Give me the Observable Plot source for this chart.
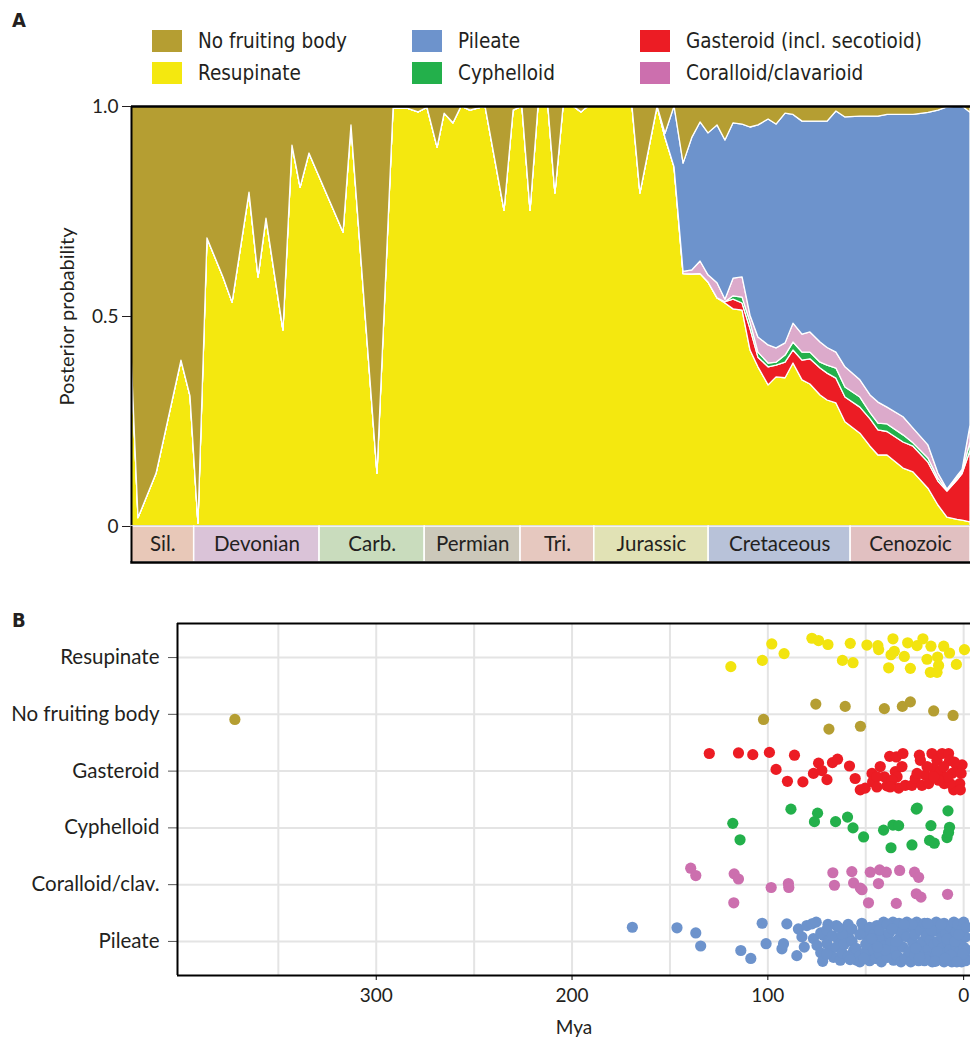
<!DOCTYPE html>
<html><head><meta charset="utf-8">
<script src="https://cdn.jsdelivr.net/npm/d3@7"></script>
<script src="https://cdn.jsdelivr.net/npm/@observablehq/plot@0.6"></script>
<style>
body{margin:0;background:#fff;}
#wrap{position:relative;width:970px;height:1041px;overflow:hidden;font-family:Lato,"Open Sans",sans-serif;color:#231f20;}
.box{position:absolute;left:0;}
.plab{position:absolute;font-family:"Liberation Sans Narrow","DejaVu Sans Condensed",sans-serif;font-weight:bold;font-size:20px;}
.leg{position:absolute;display:flex;align-items:center;font-family:"Liberation Sans Narrow","DejaVu Sans Condensed",sans-serif;font-size:20.5px;line-height:22px;white-space:nowrap;}
.sw{width:30px;height:22px;margin-right:16px;flex:none;}
</style></head>
<body><div id="wrap"></div>
<script>
// ---------- Panel A data ----------
const mya = [455.0,451.2,441.4,427.9,423.0,418.7,413.8,405.1,400.2,391.0,386.1,381.8,372.6,367.7,363.3,358.5,340.0,335.7,321.6,312.9,305.3,299.3,294.5,289.0,285.2,280.4,276.0,271.2,263.0,252.7,247.8,243.0,238.6,234.3,228.9,225.1,220.7,215.3,211.0,207.2,183.3,179.0,169.7,165.4,160.5,155.6,150.8,146.4,142.1,137.2,132.9,128.5,123.6,119.3,115.0,109.5,105.2,100.3,96.0,91.1,86.8,81.3,77.5,72.7,67.8,59.7,54.2,49.9,45.0,36.3,30.9,22.8,17.4,12.5,7.0,4.3,0];
const resupinate = [0.41,0.02,0.126,0.395,0.31,0.007,0.686,0.593,0.533,0.795,0.593,0.733,0.467,0.907,0.807,0.888,0.70,0.955,0.126,0.995,0.995,0.986,0.997,0.902,0.983,0.96,1.0,0.99,1.0,0.752,0.99,1.0,0.752,1.0,1.0,0.793,1.0,1.0,0.986,1.0,1.0,0.793,1.0,
  0.925,0.855,
  0.601,0.600,0.601,0.581,0.543,0.531,0.517,0.514,0.419,0.379,0.336,0.355,0.353,0.388,0.348,0.338,0.312,0.30,0.293,0.248,0.221,0.19,0.169,0.169,0.138,0.129,0.09,0.05,0.021,0.016,0.014,0.01];
const gasteroid = [0,0,0,0,0,0,0,0,0,0,0,0,0,0,0,0,0,0,0,0,0,0,0,0,0,0,0,0,0,0,0,0,0,0,0,0,0,0,0,0,0,0,0,
  0,0,
  0,0,0,0,0,0.003,0.023,0.017,0.051,0.023,0.043,0.028,0.037,0.031,0.047,0.06,0.064,0.064,0.059,0.059,0.062,0.065,0.06,0.056,0.062,0.061,0.062,0.057,0.062,0.094,0.111,0.17];
const cyphelloid = [0,0,0,0,0,0,0,0,0,0,0,0,0,0,0,0,0,0,0,0,0,0,0,0,0,0,0,0,0,0,0,0,0,0,0,0,0,0,0,0,0,0,0,
  0,0,
  0,0,0,0,0,0,0.008,0.014,0.016,0.012,0.009,0.007,0.017,0.019,0.019,0.016,0.014,0.019,0.024,0.024,0.024,0.015,0.016,0.018,0.017,0.008,0.01,0.007,0.003,0.005,0.005,0.02];
const coralloid = [0,0,0,0,0,0,0,0,0,0,0,0,0,0,0,0,0,0,0,0,0,0,0,0,0,0,0,0,0,0,0,0,0,0,0,0,0,0,0,0,0,0,0,
  0,0,
  0.005,0.010,0.030,0.017,0.036,0.006,0.042,0.048,0.016,0.036,0.043,0.034,0.029,0.045,0.043,0.048,0.048,0.042,0.038,0.048,0.041,0.042,0.05,0.04,0.043,0.035,0.031,0.012,0.002,0.005,0.005,0.04];
const pileate = [0,0,0,0,0,0,0,0,0,0,0,0,0,0,0,0,0,0,0,0,0,0,0,0,0,0,0,0,0,0,0,0,0,0,0,0,0,0,0,0,0,0,0,
  0.01,0.145,
  0.258,0.316,0.331,0.338,0.376,0.379,0.37,0.364,0.448,0.505,0.538,0.533,0.547,0.497,0.507,0.502,0.526,0.539,0.574,0.595,0.628,0.664,0.681,0.697,0.72,0.747,0.792,0.864,0.91,0.88,0.865,0.745];
const noFruitingBody = [0.59,0.98,0.874,0.605,0.69,0.993,0.314,0.407,0.467,0.205,0.407,0.267,0.533,0.093,0.193,0.112,0.30,0.045,0.874,0.005,0.005,0.014,0.003,0.098,0.017,0.04,0,0.01,0,0.248,0.01,0,0.248,0,0,0.207,0,0,0.014,0,0,0.207,0,
  0.065,0,
  0.136,0.074,0.038,0.064,0.045,0.081,0.04,0.043,0.05,0.045,0.031,0.043,0.017,0.02,0.036,0.036,0.036,0.036,0.012,0.026,0.024,0.024,0.024,0.02,0.02,0.02,0.015,0.01,0.002,0,0,0.015];

const seriesNames = ["Resupinate","Gasteroid (incl. secotioid)","Cyphelloid","Coralloid/clavarioid","Pileate","No fruiting body"];
const seriesValues = [resupinate, gasteroid, cyphelloid, coralloid, pileate, noFruitingBody];

const periodNames = ["Sil.","Devonian","Carb.","Permian","Tri.","Jurassic","Cretaceous","Cenozoic"];
const periodStart = [455,421,353,296,244,204,142,65];
const periodEnd   = [421,353,296,244,204,142,65,0];

// ---------- Panel B data ([Mya, jitter in row units]) ----------
const rowLabels = ["Resupinate","No fruiting body","Gasteroid","Cyphelloid","Coralloid/clav.","Pileate"];
const resupinateDots = [[118.9,0.16],[102.8,0.05],[98.0,-0.24],[91.7,-0.07],[77.5,-0.34],[74.1,-0.30],[69.3,-0.23],[61.9,0.05],[57.9,-0.25],[56.5,0.09],[49.4,-0.22],[43.8,-0.21],[43.4,-0.14],[38.3,0.18],[37.1,-0.05],[36.1,-0.33],[35.4,-0.11],[30.3,-0.02],[28.6,-0.26],[27.2,0.19],[23.8,-0.21],[20.8,-0.33],[18.7,0.03],[16.7,-0.20],[17.0,0.26],[13.6,0.26],[13.3,-0.01],[12.8,0.14],[10.2,-0.20],[7.2,-0.08],[3.7,0.12],[-0.4,-0.14]];
const noFruitDots = [[372.2,0.09],[102.2,0.09],[75.5,-0.18],[68.8,0.26],[60.5,-0.14],[52.7,0.21],[40.5,-0.10],[31.3,-0.14],[27.2,-0.22],[15.3,-0.06],[5.4,0.02]];
const gasteroidDots = [[129.9,-0.31],[115.0,-0.32],[107.7,-0.29],[99.2,-0.33],[86.4,-0.28],[95.8,-0.03],[90.0,0.18],[82.1,0.19],[76.7,0.04],[74.1,-0.14],[72.4,-0.01],[69.8,0.15],[67.0,-0.15],[64.4,-0.21],[58.3,-0.09],[55.4,0.13],[52.8,0.33],[50.3,0.30],[46.8,0.04],[46.5,0.19],[42.6,-0.08],[40.5,0.10],[39.2,0.26],[37.8,-0.26],[34.4,-0.25],[31.0,-0.31],[34.9,0.01],[34.0,0.10],[33.2,0.30],[29.8,0.25],[26.4,0.25],[24.7,0.13],[22.6,-0.28],[22.1,-0.19],[21.3,0.25],[19.6,0.07],[17.9,0.22],[16.2,-0.31],[15.3,-0.05],[13.6,-0.19],[11.9,0.01],[11.0,-0.31],[9.9,0.22],[7.7,-0.31],[7.2,-0.19],[5.9,0.04],[5.1,0.33],[3.4,-0.08],[2.0,0.22],[1.7,0.33],[0.8,-0.11],[1.3,0.04],[6.8,0.22],[10.2,-0.08],[8.5,0.10],[44.3,0.10],[36.6,0.16],[31.5,-0.08],[23.8,0.04],[18.7,-0.08],[4.8,-0.16],[12.8,0.16],[15.3,0.10],[37.5,0.28],[44.3,0.28]];
const cyphelloidDots = [[88.2,-0.33],[74.6,-0.26],[59.3,-0.19],[24.2,-0.33],[23.7,-0.35],[8.0,-0.30],[117.9,-0.08],[114.2,0.21],[76.2,-0.11],[65.4,-0.11],[56.5,0.0],[51.1,0.16],[40.9,0.04],[37.1,0.35],[36.1,-0.05],[33.2,-0.04],[26.4,0.30],[16.7,-0.04],[17.4,0.22],[15.0,0.27],[8.5,0.17],[7.2,-0.01],[7.7,0.08]];
const coralloidDots = [[139.4,-0.29],[136.8,-0.16],[117.2,-0.19],[115.0,-0.10],[117.4,0.32],[98.3,0.05],[89.5,-0.02],[89.3,0.05],[66.8,-0.21],[66.0,0.01],[57.1,-0.23],[56.2,-0.03],[52.8,0.06],[51.9,0.09],[47.7,-0.22],[48.6,0.32],[43.5,-0.02],[42.9,-0.26],[39.5,-0.22],[32.7,-0.25],[34.4,0.33],[25.1,-0.22],[23.0,-0.13],[24.2,0.16],[21.8,0.22],[8.2,0.17]];
const pileateDots = [[169.2,-0.25],[146.4,-0.24],[136.8,-0.15],[134.3,0.08],[113.8,0.16],[108.7,0.30],[102.9,-0.32],[100.9,0.04],[92.8,0.13],[92.0,0.04],[90.3,-0.31],
  [85.2,0.25],[84.4,-0.22],[82.6,-0.08],[81.4,0.10],[80.1,-0.28],[77.5,-0.31],[75.3,-0.34],[76.7,-0.05],[74.9,0.07],[69.3,-0.30],[71.6,-0.11],[69.8,0.04],[68.1,0.16],[66.5,0.28],[63.9,-0.02],[63.0,0.33],[60.0,-0.18],[58.8,-0.08],[56.2,0.16],[54.5,0.33],[51.1,-0.22],[49.4,-0.08],[47.7,0.10],[46.8,0.28],[44.3,-0.28],[40.9,-0.34],[36.1,-0.34],[39.2,-0.08],[37.5,0.16],[35.8,0.33],
  [73,0.20],[73,-0.15],[72,0.35],[70,-0.20],[70,0.22],[67,-0.10],[65,0.10],[65,-0.28],[62,0.20],[62,-0.12],[61,0.05],[59,0.26],[59,-0.30],[57,0.00],[57,-0.22],[55,0.12],[53,-0.12],[53,0.25],[53,0.36],[52,-0.32],[50,0.18],[50,0.05],[48,-0.25],[48,0.34],[46,-0.12],[46,0.15],[45,0.30],[43,-0.05],[43,0.22],[43,-0.20],[42,0.36],[41,0.08],[39,0.28],[39,-0.30],[38,-0.15],[37,0.02],[35,-0.22],[35,0.12],[34,0.25],[33,-0.32],[33,-0.05],[32,0.36],[31,0.10],[31,-0.18],[30,0.30],[29,-0.08],[29,-0.34],[28,0.18],[27,0.36],[27,-0.25],[26,0.02],[25,-0.12],[25,0.25],[24,-0.34],[23,0.10],[23,0.34],[22,-0.20],[21,0.00],[21,0.20],[20,-0.32],[20,0.34],[19,-0.10],[18,0.14],[18,0.28],[17,-0.28],[17,-0.02],[16,0.36],[15,0.05],[15,-0.18],[14,0.24],[14,-0.34],[13,0.00],[12,0.32],[12,-0.22],[11,0.12],[11,-0.08],[10,-0.32],[10,0.36],[9,0.20],[9,-0.14],[8,0.02],[8,0.32],[7,-0.26],[7,0.14],[6,-0.06],[6,0.36],[5,0.24],[5,-0.34],[4,-0.16],[4,0.08],[3,0.30],[3,-0.30],[2,0.00],[2,0.18],[1,-0.20],[1,0.36],[0,0.10],[0,-0.34],[-0.5,0.26],[-1,-0.08],[-1,0.34],[-1.5,0.15],[-1.5,-0.25],
  [19.5,0.32],[16.5,-0.20],[13.5,0.18],[11.5,-0.30],[8.5,-0.04],[6.5,0.24],[4.5,0.00],[2.5,-0.12],[0.5,0.22],[22.5,0.28],[26.5,-0.30],[30.5,-0.30],[34.5,0.00],[36.5,-0.22],[40,0.15],[44,0.10],[47,-0.05],[51,0.30],[58,0.32],[64,-0.25],[24.5,0.12],[18.5,-0.32],[14.5,0.35],[9.5,0.30],[3.5,0.36]];
const dotGroups = [resupinateDots, noFruitDots, gasteroidDots, cyphelloidDots, coralloidDots, pileateDots];

// ---------- styles ----------
const areaColors = ["#f4e80f","#ec1c24","#23b04b","#dcaacb","#6d93cc","#b59e32"];
const legendColors = {"No fruiting body":"#b59e32","Resupinate":"#f4e80f","Pileate":"#6d93cc","Cyphelloid":"#23b04b","Gasteroid (incl. secotioid)":"#ec1c24","Coralloid/clavarioid":"#cc6fae"};
const periodColors = ["#e8c8b8","#dac3d8","#c9dcbd","#ccc8ba","#e6c8bf","#e1e2b5","#b8c2d9","#e1c0c1"];
const dotColors = ["#f2e40f","#b59e32","#ec1c24","#23b04b","#cc6fae","#6d93cc"];
const ink = "#231f20";

const wrap = document.getElementById("wrap");
function place(node, top){ const d=document.createElement("div"); d.className="box"; d.style.top=top+"px"; d.appendChild(node); wrap.appendChild(d); }

// ---------- Panel A ----------
const longA = [];
seriesNames.forEach((s,k)=>{ mya.forEach((m,i)=>longA.push({mya:m, series:s, p:seriesValues[k][i]})); });

const plotA = Plot.plot({
  width:970, height:529, marginLeft:131, marginRight:0, marginTop:106, marginBottom:3,
  style:{fontFamily:"Lato, sans-serif", fontSize:"19px", color:ink, background:"transparent", overflow:"visible"},
  x:{domain:[455,0], axis:null},
  y:{domain:[0,1], axis:null},
  color:{domain:seriesNames, range:areaColors},
  marks:[
    Plot.areaY(longA, {x:"mya", y:"p", z:"series", fill:"series", order:seriesNames, stroke:"white", strokeWidth:1.3, curve:"linear", clip:true}),
    Plot.ruleY([1], {stroke:"#000", strokeWidth:2.5}),
    Plot.ruleY([0], {stroke:"#000", strokeWidth:2}),
    Plot.ruleX([455], {stroke:"#000", strokeWidth:2}),
    Plot.axisY({ticks:[0,0.5,1], tickFormat:d=> d===1?"1.0":d===0?"0":"0.5", tickSize:9, tickPadding:4, stroke:ink, fontSize:19, label:null}),
    Plot.text(["Posterior probability"], {frameAnchor:"left", textAnchor:"middle", rotate:-90, dx:-64, fontSize:20, fill:ink})
  ]
});
place(plotA, 0);

const periods = periodNames.map((n,i)=>({name:n, start:periodStart[i], end:periodEnd[i], color:periodColors[i]}));
const plotBar = Plot.plot({
  width:970, height:38, marginLeft:131, marginRight:0, marginTop:0, marginBottom:2,
  style:{fontFamily:"Lato, sans-serif", fontSize:"20.5px", color:ink, background:"transparent", overflow:"visible"},
  x:{domain:[455,0], axis:null},
  marks:[
    Plot.rect(periods, {x1:"start", x2:"end", fill:d=>d.color, stroke:"white", strokeWidth:1.5}),
    Plot.text(periods, {x:d=>(d.start+d.end)/2, text:"name", frameAnchor:"middle", fill:ink, fontSize:20.5}),
    Plot.ruleX([455], {stroke:"#000", strokeWidth:2}),
    Plot.frame({anchor:"bottom", stroke:"#000", strokeWidth:2.5})
  ]
});
place(plotBar, 526);

// legend
const legendLayout = [["No fruiting body","Resupinate"],["Pileate","Cyphelloid"],["Gasteroid (incl. secotioid)","Coralloid/clavarioid"]];
const legLeft = [152,412,640], legTop=[30,62];
legendLayout.forEach((col,c)=>col.forEach((name,r)=>{
  const d=document.createElement("div"); d.className="leg"; d.style.left=legLeft[c]+"px"; d.style.top=legTop[r]+"px";
  d.innerHTML=`<span class="sw" style="background:${legendColors[name]}"></span><span>${name}</span>`;
  wrap.appendChild(d);
}));
["A","B"].forEach((t,i)=>{const d=document.createElement("div"); d.className="plab"; d.textContent=t; d.style.left="12px"; d.style.top=(i?608:8)+"px"; wrap.appendChild(d);});

// ---------- Panel B ----------
const dotsB = [];
dotGroups.forEach((g,row)=>g.forEach(([m,j])=>dotsB.push({mya:m, row, y:row+j})));

const plotB = Plot.plot({
  width:970, height:441, marginLeft:177, marginRight:0, marginTop:23, marginBottom:66,
  style:{fontFamily:"Lato, sans-serif", fontSize:"20px", color:ink, background:"transparent", overflow:"visible"},
  x:{domain:[401.5,-3.5]},
  y:{domain:[5.6,-0.6]},
  marks:[
    Plot.gridX([0,50,100,150,200,250,300,350], {stroke:"#e4e4e4", strokeWidth:2, strokeOpacity:1}),
    Plot.gridY([0,1,2,3,4,5], {stroke:"#e4e4e4", strokeWidth:2, strokeOpacity:1}),
    Plot.dot(dotsB, {x:"mya", y:"y", r:5.6, fill:d=>dotColors[d.row], stroke:null}),
    Plot.axisY({ticks:[0,1,2,3,4,5], tickFormat:i=>rowLabels[i], tickSize:9, tickPadding:9, stroke:"#555", fontSize:20.5, label:null}),
    Plot.axisX({ticks:[0,100,200,300], tickSize:5, tickPadding:8, fontSize:19, stroke:"#000", label:null}),
    Plot.text(["Mya"], {frameAnchor:"bottom", lineAnchor:"middle", dy:52, fontSize:19, fill:ink}),
    Plot.ruleY([-0.6], {stroke:"#000", strokeWidth:2}),
    Plot.ruleY([5.6], {stroke:"#000", strokeWidth:2}),
    Plot.ruleX([401.5], {stroke:"#000", strokeWidth:2})
  ]
});
place(plotB, 600);
</script></body></html>
